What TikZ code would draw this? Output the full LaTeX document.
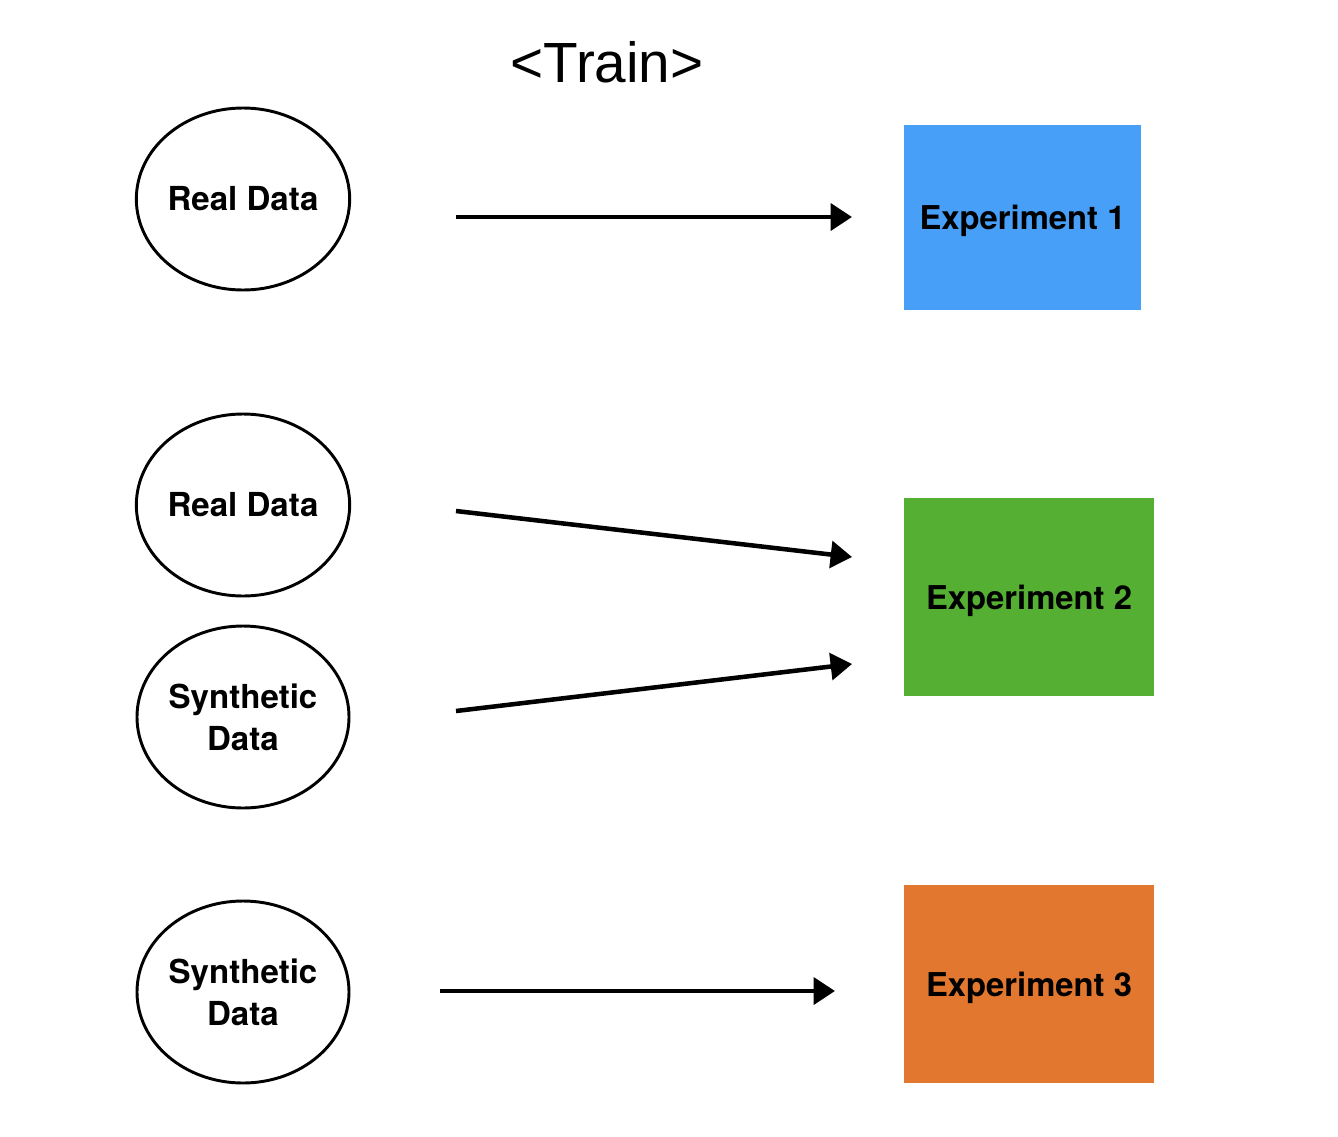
\documentclass[tikz,border=0pt]{standalone}
\usepackage{fontspec}
\setmainfont{TeX Gyre Heros}
\newfontfamily\titlefont{Liberation Sans}
\usetikzlibrary{shapes.geometric,arrows.meta}
\definecolor{expblue}{HTML}{489FF8}
\definecolor{expgreen}{HTML}{55AF33}
\definecolor{exporange}{HTML}{E2782F}
\begin{document}
\begin{tikzpicture}[x=0.75pt,y=-0.75pt,
  datanode/.style={ellipse,draw=black,line width=2.2pt,minimum width=159pt,minimum height=136.5pt,inner sep=0pt,align=center,font=\fontsize{24.8}{31.5}\selectfont\bfseries},
  expnode/.style={rectangle,draw=none,inner sep=0pt,text depth=0pt,align=center,font=\fontsize{24.6}{30}\selectfont\bfseries},
  flow/.style={line width=3.4pt,black,-{Triangle[length=16pt,width=20pt]}}]
\useasboundingbox[fill=white] (0,0) rectangle (1338,1136);
\node (title) at (607,62) {\titlefont\fontsize{42.5}{50}\selectfont <Train>};
\node[datanode] (d1) at (243,199) {Real Data};
\node[datanode] (d2) at (243,505) {Real Data};
\node[datanode] (d3) at (243,717) {Synthetic\\Data};
\node[datanode] (d4) at (243,992) {Synthetic\\Data};
\node[expnode,fill=expblue,minimum width=177.75pt,minimum height=138.75pt] (e1) at (1022.5,217.5) {Experiment 1};
\node[expnode,fill=expgreen,minimum width=187.5pt,minimum height=148.5pt] (e2) at (1029,597) {Experiment 2};
\node[expnode,fill=exporange,minimum width=187.5pt,minimum height=148.5pt] (e3) at (1029,984) {Experiment 3};
\coordinate (s1) at (456,217); \coordinate (t1) at (852,217);
\coordinate (s2) at (456,511); \coordinate (t2) at (852,557);
\coordinate (s3) at (456,711); \coordinate (t3) at (852,664);
\coordinate (s4) at (440,991); \coordinate (t4) at (835,991);
\draw[flow] (s1) -- (t1);
\draw[flow] (s2) -- (t2);
\draw[flow] (s3) -- (t3);
\draw[flow] (s4) -- (t4);
\end{tikzpicture}
\end{document}
